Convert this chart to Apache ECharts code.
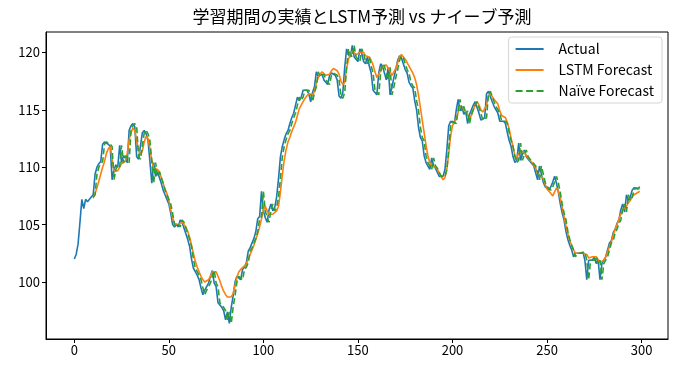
<!DOCTYPE html>
<html><head><meta charset="utf-8">
<script src="https://cdn.jsdelivr.net/npm/echarts@6/dist/echarts.min.js"></script>
<style>html,body{margin:0;padding:0;background:#fff}#c{width:675px;height:372px}</style>
</head><body><div id="c"></div>
<script>
const chartTitle = '学習期間の実績とLSTM予測 vs ナイーブ予測';
const seriesNames = ['Actual', 'LSTM Forecast', 'Naïve Forecast'];
const xTicks = [0, 50, 100, 150, 200, 250, 300];
const yTicks = [100, 105, 110, 115, 120];
const forecastStart = 10;

const actual = [
102.0,102.4,103.3,105.2,107.2,106.4,107.2,107.0,106.9,107.4,
107.6,109.4,110.0,110.3,110.5,112.0,112.2,112.3,112.0,111.8,
108.9,109.8,110.2,110.0,111.9,110.4,111.0,110.8,110.4,113.2,
113.6,113.8,113.5,110.9,110.7,110.8,113.0,113.2,112.9,112.3,
110.5,108.6,110.4,109.2,109.6,109.5,108.6,108.0,107.6,107.2,
106.8,106.0,105.0,104.8,105.0,104.8,105.4,105.2,105.1,104.2,
103.7,103.1,102.0,101.2,100.9,100.6,100.2,99.5,98.9,99.3,
99.6,99.9,100.5,101.0,99.9,99.6,98.2,98.3,97.8,97.5,
96.7,97.4,96.4,97.8,98.8,100.0,100.5,100.6,100.2,101.1,
101.3,101.7,102.7,103.0,103.1,103.8,104.4,105.5,105.7,107.9,
106.2,105.6,105.2,106.3,106.8,106.2,106.5,107.4,109.0,110.9,
111.8,112.4,112.9,113.2,113.8,114.3,114.7,115.4,116.1,115.8,
116.1,116.7,116.6,116.7,116.4,115.7,116.5,117.0,118.3,117.9,
117.9,118.1,117.6,117.5,117.2,118.0,118.2,118.3,118.0,117.6,
116.2,116.0,116.5,118.7,120.3,119.8,119.6,120.6,119.6,119.5,
119.2,120.3,119.9,119.2,119.0,119.6,118.8,118.2,116.7,116.5,
116.3,118.2,119.0,118.8,118.7,117.6,118.7,116.3,117.0,117.8,
118.5,119.3,119.7,119.5,119.0,118.5,118.2,117.4,117.1,116.9,
115.8,115.0,113.5,112.6,112.3,111.0,110.4,110.1,109.8,110.8,
110.1,109.9,109.8,109.2,109.1,109.2,109.8,111.5,113.6,114.0,
114.1,113.8,115.0,115.9,114.9,115.3,114.6,114.9,113.8,114.6,
115.0,115.4,115.7,115.2,114.7,114.1,114.2,114.3,116.4,116.6,
116.5,115.7,115.3,115.0,114.7,114.0,114.1,114.0,113.8,113.0,
112.3,111.8,110.9,110.4,110.6,112.1,110.6,111.1,111.5,110.9,
110.8,110.5,110.3,110.1,109.5,108.9,110.1,110.2,108.7,108.3,
108.2,108.0,108.3,108.7,109.2,108.6,107.8,106.8,106.0,105.4,
104.4,103.7,103.2,102.8,102.2,102.5,102.4,102.5,102.4,102.6,
101.9,100.2,101.9,101.8,101.9,102.2,101.6,101.9,100.2,101.6,
101.9,102.2,102.8,103.4,103.6,104.3,104.6,105.1,105.4,106.3,
106.8,106.1,107.6,107.1,107.4,108.0,108.2,108.3,108.1,108.3
];

const lstm = [
107.3,107.7,108.2,108.8,109.4,110.0,110.5,111.2,111.6,111.8,
110.8,109.6,109.5,109.7,110.0,110.3,110.4,110.5,111.2,112.4,
113.0,113.4,113.2,112.3,111.5,111.1,111.4,112.2,112.7,112.5,
111.6,110.6,109.9,109.9,109.8,109.6,109.1,108.6,108.1,107.7,
107.1,106.3,105.6,105.1,105.0,105.0,105.1,105.2,105.1,104.8,
104.4,103.9,103.2,102.5,101.8,101.3,100.9,100.5,100.2,100.0,
100.0,100.2,100.5,100.9,101.0,100.9,100.5,100.1,99.6,99.2,
98.9,98.7,98.7,98.7,99.0,99.7,100.4,100.9,101.1,101.2,
101.4,101.6,102.0,102.4,102.8,103.2,103.7,104.2,104.8,105.5,
106.3,106.6,106.2,105.9,105.8,105.9,106.0,106.2,106.6,107.8,
109.3,110.6,111.5,112.2,112.6,113.1,113.5,113.9,114.5,115.1,
115.4,115.7,116.0,116.2,116.4,116.4,116.3,116.6,117.3,117.8,
118.1,118.3,118.2,118.0,117.9,118.1,118.4,118.6,118.6,118.4,
118.1,117.5,117.2,117.4,118.6,119.4,119.8,120.1,120.1,119.8,
119.7,120.0,120.1,120.0,119.7,119.6,119.6,119.3,118.9,118.3,
117.8,117.8,118.4,118.8,118.9,118.9,118.6,118.5,118.0,118.1,
118.6,119.1,119.6,119.8,119.7,119.4,119.1,118.8,118.5,118.2,
117.8,117.2,116.3,115.2,114.1,113.0,111.9,111.0,110.4,110.1,
110.1,110.0,109.8,109.5,109.2,108.9,109.1,109.8,111.2,112.7,
113.6,114.0,114.2,114.8,115.3,115.4,115.1,114.8,114.6,114.3,
114.5,115.0,115.4,115.7,115.4,115.0,114.8,114.7,115.4,116.2,
116.4,116.3,115.9,115.7,115.5,114.9,114.5,114.4,114.3,113.9,
113.3,112.5,111.8,111.0,110.8,111.2,111.4,111.3,111.3,111.0,
110.8,110.6,110.4,110.2,109.9,109.5,109.3,109.2,109.0,108.5,
108.1,107.9,107.7,107.5,107.6,108.2,107.9,107.3,106.5,105.7,
104.9,104.2,103.6,103.2,102.8,102.5,102.5,102.5,102.5,102.5,
102.6,102.4,102.1,102.1,102.2,102.2,102.2,102.1,101.7,101.7,
101.9,102.2,102.6,103.1,103.5,104.1,104.6,105.0,105.5,105.9,
106.3,106.4,106.6,106.9,107.1,107.4,107.6,107.7,107.8,107.9
];

const naive = [
107.4,
107.6,109.4,110.0,110.3,110.5,112.0,112.2,112.3,112.0,111.8,
108.9,109.8,110.2,110.0,111.9,110.4,111.0,110.8,110.4,113.2,
113.6,113.8,113.5,110.9,110.7,110.8,113.0,113.2,112.9,112.3,
110.5,108.6,110.4,109.2,109.6,109.5,108.6,108.0,107.6,107.2,
106.8,106.0,105.0,104.8,105.0,104.8,105.4,105.2,105.1,104.2,
103.7,103.1,102.0,101.2,100.9,100.6,100.2,99.5,98.9,99.3,
99.6,99.9,100.5,101.0,99.9,99.6,98.2,98.3,97.8,97.5,
96.7,97.4,96.4,97.8,98.8,100.0,100.5,100.6,100.2,101.1,
101.3,101.7,102.7,103.0,103.1,103.8,104.4,105.5,105.7,107.9,
106.2,105.6,105.2,106.3,106.8,106.2,106.5,107.4,109.0,110.9,
111.8,112.4,112.9,113.2,113.8,114.3,114.7,115.4,116.1,115.8,
116.1,116.7,116.6,116.7,116.4,115.7,116.5,117.0,118.3,117.9,
117.9,118.1,117.6,117.5,117.2,118.0,118.2,118.3,118.0,117.6,
116.2,116.0,116.5,118.7,120.3,119.8,119.6,120.6,119.6,119.5,
119.2,120.3,119.9,119.2,119.0,119.6,118.8,118.2,116.7,116.5,
116.3,118.2,119.0,118.8,118.7,117.6,118.7,116.3,117.0,117.8,
118.5,119.3,119.7,119.5,119.0,118.5,118.2,117.4,117.1,116.9,
115.8,115.0,113.5,112.6,112.3,111.0,110.4,110.1,109.8,110.8,
110.1,109.9,109.8,109.2,109.1,109.2,109.8,111.5,113.6,114.0,
114.1,113.8,115.0,115.9,114.9,115.3,114.6,114.9,113.8,114.6,
115.0,115.4,115.7,115.2,114.7,114.1,114.2,114.3,116.4,116.6,
116.5,115.7,115.3,115.0,114.7,114.0,114.1,114.0,113.8,113.0,
112.3,111.8,110.9,110.4,110.6,112.1,110.6,111.1,111.5,110.9,
110.8,110.5,110.3,110.1,109.5,108.9,110.1,110.2,108.7,108.3,
108.2,108.0,108.3,108.7,109.2,108.6,107.8,106.8,106.0,105.4,
104.4,103.7,103.2,102.8,102.2,102.5,102.4,102.5,102.4,102.6,
101.9,100.2,101.9,101.8,101.9,102.2,101.6,101.9,100.2,101.6,
101.9,102.2,102.8,103.4,103.6,104.3,104.6,105.1,105.4,106.3,
106.8,106.1,107.6,107.1,107.4,108.0,108.2,108.3,108.1
];

const FONT = '"Noto Sans CJK JP", "DejaVu Sans", sans-serif';
const toPairs = (arr, start) => arr.map((v, i) => [start + i, v]);
const solidIcon = 'path://M0,0H28V2H0Z';
const dashedIcon = 'path://M0,0H7V2H0Z M10.5,0H17.5V2H10.5Z M21,0H28V2H21Z';

const chart = echarts.init(document.getElementById('c'), null, {renderer: 'canvas'});
chart.setOption({
  animation: false,
  backgroundColor: '#fff',
  textStyle: {fontFamily: FONT},
  title: {
    text: chartTitle, left: 357, top: 3, textAlign: 'center',
    textStyle: {fontFamily: FONT, fontSize: 17, fontWeight: 'normal', color: '#000'}
  },
  grid: {left: 46, right: 7, top: 32, bottom: 33, show: true, borderColor: '#000', borderWidth: 1, backgroundColor: 'transparent'},
  legend: {
    orient: 'vertical', right: 13, top: 37,
    backgroundColor: '#fff', borderColor: '#d4d4d4', borderWidth: 1, borderRadius: 3,
    padding: [5, 8, 5, 7], itemGap: 7, itemWidth: 28, itemHeight: 2,
    textStyle: {fontFamily: FONT, fontSize: 14, color: '#000', padding: [0, 0, 0, 10], lineHeight: 14},
    data: [
      {name: seriesNames[0], icon: solidIcon, itemStyle: {color: '#1f77b4'}},
      {name: seriesNames[1], icon: solidIcon, itemStyle: {color: '#ff7f0e'}},
      {name: seriesNames[2], icon: dashedIcon, itemStyle: {color: '#2ca02c'}}
    ]
  },
  xAxis: {
    type: 'value', min: -14.95, max: 313.95,
    splitLine: {show: false},
    axisLine: {show: true, onZero: false, lineStyle: {color: '#000', width: 1}},
    axisTick: {show: true, inside: false, length: 4, lineStyle: {color: '#000'}, customValues: xTicks},
    axisLabel: {color: '#000', fontSize: 13, fontFamily: FONT, margin: 5, customValues: xTicks}
  },
  yAxis: {
    type: 'value', min: 95.04, max: 121.77,
    splitLine: {show: false},
    axisLine: {show: true, onZero: false, lineStyle: {color: '#000', width: 1}},
    axisTick: {show: true, inside: false, length: 4, lineStyle: {color: '#000'}, customValues: yTicks},
    axisLabel: {color: '#000', fontSize: 13, fontFamily: FONT, margin: 6, customValues: yTicks}
  },
  series: [
    {name: seriesNames[0], type: 'line', data: toPairs(actual, 0), symbol: 'none', showSymbol: false,
     lineStyle: {color: '#1f77b4', width: 1.6}, itemStyle: {color: '#1f77b4'}, z: 2},
    {name: seriesNames[1], type: 'line', data: toPairs(lstm, forecastStart), symbol: 'none', showSymbol: false,
     lineStyle: {color: '#ff7f0e', width: 1.6}, itemStyle: {color: '#ff7f0e'}, z: 3},
    {name: seriesNames[2], type: 'line', data: toPairs(naive, forecastStart), symbol: 'none', showSymbol: false,
     lineStyle: {color: '#2ca02c', width: 1.6, type: [6, 3]}, itemStyle: {color: '#2ca02c'}, z: 4}
  ]
});
</script>
</body></html>
